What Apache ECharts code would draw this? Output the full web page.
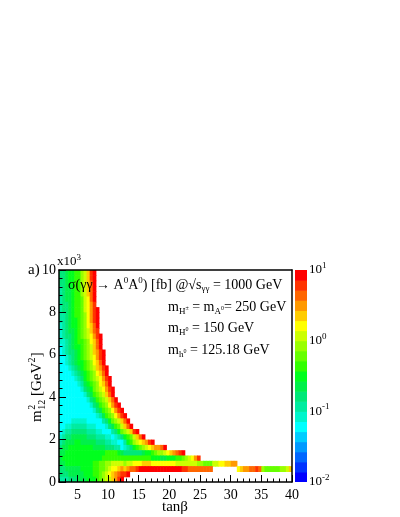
<!DOCTYPE html>
<html><head><meta charset="utf-8">
<script src="https://cdn.jsdelivr.net/npm/echarts@6/dist/echarts.min.js"></script>
<style>html,body{margin:0;padding:0;background:#fff}#c{width:400px;height:517px}</style>
</head><body><div id="c"></div>
<script>
// axis ranges (tan beta, m12^2 in units of 10^3 GeV^2) and cell size of the read-off grid
const tanbMin = 2, tanbMax = 40, tanbStep = 0.5;
const m12Min = 0, m12Max = 10, m12Step = 0.25;

// contour level of sigma for each cell:
// level k covers 10^(-2 + k/7) .. 10^(-2 + (k+1)/7), '0'..'9','a'(10)..'k'(20); '.' and cells after the end of a row are empty.
// rows run from m12^2 = 9.75-10 (top) down to 0-0.25 (bottom), columns from tan beta = 2 in steps of 0.5
const levelRows = [
  "889aabbdegjk",
  "889aabbdegjk",
  "889aabbdegik",
  "7899abbdegik",
  "7899abbdegik",
  "7899abbcefik",
  "7889abbcefhj",
  "7889abbcefhjk",
  "7789abbcdfhjk",
  "7789aabcdfhjk",
  "6789aabcdfgik",
  "67899abcdegij",
  "67889abcdefhjk",
  "66789abbcdfgik",
  "56789aabcdegik",
  "567889abcdeghjk",
  "556789abcdefhjk",
  "556789aabcdfgik",
  "5556789abcdeghjk",
  "55556789abcdfgik",
  "55555678abcdefhjk",
  "555555679abcdfgik",
  "5555555689acdefhjk",
  "55555555689bcdegik",
  "555555555689bcdegik",
  "5555555555689bcdfhjk",
  "55555555555689bcdfhjk",
  "555555555555679bcdfhjk",
  "5555666665555578acdegik",
  "556677777666555689bcegik",
  "5677888887776655578acdegjk",
  "678899999888777665678abcegik",
  "78999aa999998887766557abdefghjk",
  "899aaaaaaaa9999888775678abcdefghhik",
  "99aaaaaaaaaaaaabbbba98888889aabcddefghijk",
  "9aaaaaaaaaaaaabbbbbbbbbbbbbbbbaaa99aaabbcdefhj",
  "99aaaaaaaaabbccddeeeedeefffgggffffffffeeeeeeeddccceeffgghh",
  "8899999aaaabbccdeffghghiijkkkkkkkkkkkkkkjjiiiiiiii........fghhiijidcccccddeg",
  "88899999aaabbcdefghijjk",
  "777888999aaabcdeeghjk"
];

const xMajorTicks = [5, 10, 15, 20, 25, 30, 35, 40];
const xMinorTicks = [2,3,4,5,6,7,8,9,10,11,12,13,14,15,16,17,18,19,20,21,22,23,24,25,26,27,28,29,30,31,32,33,34,35,36,37,38,39,40];
const yMajorTicks = [0, 2, 4, 6, 8, 10];
const zDecadeMin = -2, zDecadeMax = 1, levelsPerDecade = 7;
const colorbarLevels = [0,1,2,3,4,5,6,7,8,9,10,11,12,13,14,15,16,17,18,19,20];

const levelColors = ['#0000ff','#0033ff','#0066ff','#0099ff','#00ccff','#00ffff','#00f5cc','#00eca0','#00e878','#00f04a','#00ff1e','#33ff00','#66ff00','#99ff00','#ccff00','#ffff00','#ffcc00','#ff9900','#ff6600','#ff3300','#ff0000'];

const cells = [];
levelRows.forEach((row, r) => {
  const mTop = m12Max - r * m12Step;
  for (let j = 0; j < row.length; j++) {
    const ch = row[j];
    if (ch === '.') continue;
    cells.push([tanbMin + j * tanbStep, tanbMin + (j + 1) * tanbStep, mTop - m12Step, mTop, parseInt(ch, 36)]);
  }
});
const barCells = colorbarLevels.map(k => [0, 1, zDecadeMin + k / levelsPerDecade, zDecadeMin + (k + 1) / levelsPerDecade, k]);

function rectItem(params, api) {
  const a = api.coord([api.value(0), api.value(3)]);
  const b = api.coord([api.value(1), api.value(2)]);
  return {type: 'rect', shape: {x: a[0], y: a[1], width: b[0] - a[0] + 0.6, height: b[1] - a[1] + 0.6},
          style: {fill: levelColors[api.value(4)]}};
}

const FF = '"Liberation Serif", "Times New Roman", serif';
const black = '#000';
const lineBlack = {color: black, width: 1.5};
const tickBlack = {color: black, width: 1};

const chart = echarts.init(document.getElementById('c'), null, {renderer: 'canvas'});
chart.setOption({
  animation: false,
  backgroundColor: '#fff',
  grid: [
    {left: 59, top: 270, width: 233, height: 212, containLabel: false},
    {left: 295, top: 270, width: 12, height: 212, containLabel: false}
  ],
  xAxis: [
    {gridIndex: 0, type: 'value', min: tanbMin, max: tanbMax, position: 'bottom', z: 10,
     axisLine: {show: true, onZero: false, lineStyle: lineBlack},
     axisTick: {show: true, inside: true, length: 7, customValues: xMajorTicks, lineStyle: tickBlack},
     axisLabel: {show: true, customValues: xMajorTicks, margin: 6, color: black, fontFamily: FF, fontSize: 14},
     splitLine: {show: false}},
    {gridIndex: 0, type: 'value', min: tanbMin, max: tanbMax, position: 'bottom', z: 10,
     axisLine: {show: false},
     axisTick: {show: true, inside: true, length: 3.5, customValues: xMinorTicks, lineStyle: tickBlack},
     axisLabel: {show: false}, splitLine: {show: false}},
    {gridIndex: 0, type: 'value', min: tanbMin, max: tanbMax, position: 'top', z: 10,
     axisLine: {show: true, onZero: false, lineStyle: lineBlack},
     axisTick: {show: false}, axisLabel: {show: false}, splitLine: {show: false}},
    {gridIndex: 1, type: 'value', min: 0, max: 1, show: false}
  ],
  yAxis: [
    {gridIndex: 0, type: 'value', min: m12Min, max: m12Max, interval: 2, position: 'left', z: 10,
     axisLine: {show: true, onZero: false, lineStyle: lineBlack},
     axisTick: {show: true, inside: true, length: 7, lineStyle: tickBlack},
     minorTick: {show: true, splitNumber: 5, length: 3.5, lineStyle: tickBlack},
     axisLabel: {show: true, margin: 3, color: black, fontFamily: FF, fontSize: 14, customValues: yMajorTicks},
     splitLine: {show: false}, minorSplitLine: {show: false}},
    {gridIndex: 0, type: 'value', min: m12Min, max: m12Max, position: 'right', z: 10,
     axisLine: {show: true, onZero: false, lineStyle: lineBlack},
     axisTick: {show: false}, axisLabel: {show: false}, splitLine: {show: false}},
    {gridIndex: 1, type: 'value', min: zDecadeMin, max: zDecadeMax, interval: 1, position: 'right',
     axisLine: {show: false}, axisTick: {show: false}, splitLine: {show: false},
     axisLabel: {show: true, margin: 2, showMinLabel: true, showMaxLabel: true,
       formatter: v => '{b|10}{s|' + v + '}',
       rich: {b: {fontFamily: FF, fontSize: 13, color: black},
              s: {fontFamily: FF, fontSize: 9, color: black, padding: [0, 0, 9, 0]}}}}
  ],
  series: [
    {type: 'custom', xAxisIndex: 0, yAxisIndex: 0, clip: true, renderItem: rectItem, data: cells, silent: true},
    {type: 'custom', xAxisIndex: 3, yAxisIndex: 2, clip: true, renderItem: rectItem, data: barCells, silent: true}
  ],
  graphic: [
    {type: 'text', x: 28, y: 270, style: {text: 'a)', font: '15px ' + FF, fill: black, verticalAlign: 'middle'}},
    {type: 'text', x: 57, y: 262, style: {text: '{n|x10}{s|3}', fill: black, verticalAlign: 'middle',
      rich: {n: {fontFamily: FF, fontSize: 13, fill: black}, s: {fontFamily: FF, fontSize: 9, fill: black, padding: [0, 0, 9, 0]}}}},
    {type: 'text', x: 175, y: 507, style: {text: 'tanβ', font: '15px ' + FF, fill: black, align: 'center', verticalAlign: 'middle'}},
    {type: 'group', x: 37, y: 386, rotation: Math.PI / 2, children: [
      {type: 'text', x: -36, y: 0, style: {text: 'm', font: '15px ' + FF, fill: black, verticalAlign: 'middle'}},
      {type: 'text', x: -23.8, y: -5, style: {text: '2', font: '10px ' + FF, fill: black, verticalAlign: 'middle'}},
      {type: 'text', x: -23.8, y: 5, style: {text: '12', font: '10px ' + FF, fill: black, verticalAlign: 'middle'}},
      {type: 'text', x: -13.8, y: 0, style: {text: ' [GeV', font: '15px ' + FF, fill: black, verticalAlign: 'middle'}},
      {type: 'text', x: 23.5, y: -5, style: {text: '2', font: '10px ' + FF, fill: black, verticalAlign: 'middle'}},
      {type: 'text', x: 28.8, y: 0, style: {text: ']', font: '15px ' + FF, fill: black, verticalAlign: 'middle'}}
    ]},
    {type: 'text', x: 68, y: 285, z: 20, style: {
      text: '{n|σ(γγ → A}{sp|0}{n|A}{sp|0}{n|) [fb] @√s}{sb|γγ}{n| = 1000 GeV}', fill: black, verticalAlign: 'middle',
      rich: {n: {fontFamily: FF, fontSize: 14, fill: black},
             sp: {fontFamily: FF, fontSize: 9, fill: black, padding: [0, 0, 9, 0]},
             sb: {fontFamily: FF, fontSize: 9, fill: black, padding: [8, 0, 0, 0]}}}},
    {type: 'text', x: 168, y: 307, z: 20, style: {
      text: '{n|m}{sb|H}{ss|±}{n| = m}{sb|A}{ss|0}{n|= 250 GeV}', fill: black, verticalAlign: 'middle',
      rich: {n: {fontFamily: FF, fontSize: 14, fill: black},
             sb: {fontFamily: FF, fontSize: 9, fill: black, padding: [9, 0, 0, 0]},
             ss: {fontFamily: FF, fontSize: 6, fill: black, padding: [2, 0, 0, 0]}}}},
    {type: 'text', x: 168, y: 328, z: 20, style: {
      text: '{n|m}{sb|H}{ss|0}{n| = 150 GeV}', fill: black, verticalAlign: 'middle',
      rich: {n: {fontFamily: FF, fontSize: 14, fill: black},
             sb: {fontFamily: FF, fontSize: 9, fill: black, padding: [9, 0, 0, 0]},
             ss: {fontFamily: FF, fontSize: 6, fill: black, padding: [2, 0, 0, 0]}}}},
    {type: 'text', x: 168, y: 350, z: 20, style: {
      text: '{n|m}{sb|h}{ss|0}{n| = 125.18 GeV}', fill: black, verticalAlign: 'middle',
      rich: {n: {fontFamily: FF, fontSize: 14, fill: black},
             sb: {fontFamily: FF, fontSize: 9, fill: black, padding: [9, 0, 0, 0]},
             ss: {fontFamily: FF, fontSize: 6, fill: black, padding: [2, 0, 0, 0]}}}}
  ]
});
</script></body></html>
